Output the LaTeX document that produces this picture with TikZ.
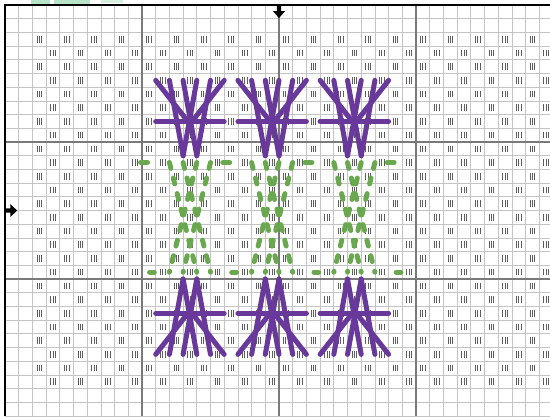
\documentclass[tikz,border=0pt]{standalone}
\definecolor{stpurple}{HTML}{68399A}
\definecolor{stgreen}{HTML}{6AA84F}
\definecolor{minorgrid}{HTML}{C4C4C4}
\definecolor{majorgrid}{HTML}{7A7A7A}
\definecolor{markgray}{HTML}{5E5E5E}
\definecolor{logogreen}{HTML}{B9E3C6}
\tikzset{
  minorline/.style={minorgrid,line width=0.8pt},
  majorline/.style={majorgrid,line width=1.1pt},
  borderline/.style={black,line width=1.6pt},
  markst/.style={markgray,line width=0.75pt},
  purplest/.style={stpurple,line width=5pt,line cap=round},
  greenst/.style={stgreen,line width=5pt,line cap=round,dash pattern=on 6pt off 10pt},
  greenbar/.style={stgreen,line width=5pt,line cap=round},
  arrowfill/.style={fill=black,draw=none}
}
\begin{document}
\begin{tikzpicture}[x=13.7pt,y=-13.7pt]
\useasboundingbox (-0.365,-0.365) rectangle (39.78,30.0);
\clip (-0.365,-0.365) rectangle (39.78,30.0);
\fill[white] (-0.365,-0.365) rectangle (39.78,30.0);
% faint logo remnants at top
\fill[logogreen] (1.9,-0.37) rectangle (3.3,-0.1);
\fill[logogreen] (3.6,-0.37) rectangle (6.2,-0.08);
\fill[logogreen!60] (7.0,-0.37) rectangle (8.6,-0.15);
% minor grid
\foreach \k in {1,...,39} \draw[minorline] (\k,0) -- (\k,30.0);
\foreach \j in {1,...,30} \draw[minorline] (0,\j) -- (39.78,\j);
% major grid
\foreach \k in {10,20,30} \draw[majorline] (\k,0) -- (\k,30.0);
\foreach \j in {10,20} \draw[majorline] (0,\j) -- (39.78,\j);
% border
\draw[borderline] (0,30.0) -- (0,0) -- (39.78,0);
% marks
\foreach \j in {2,...,27}{
  \pgfmathtruncatemacro\st{2+mod(\j,2)}
  \pgfmathtruncatemacro\stt{\st+2}
  \foreach \k in {\st,\stt,...,39}{
    \draw[markst,shift={(\k+0.5,\j+0.5)}] (-0.17,-0.24)--(-0.17,0.24) (0,-0.24)--(0,0.24) (0.17,-0.24)--(0.17,0.24);
  }
}
% green stitches
\foreach \g in {0,1,2}{
  \begin{scope}[xshift=\g*6*13.7pt]
    \draw[greenst] (12,11.5) -- (14,19.5);
    \draw[greenst] (13,11.5) -- (15,19.5);
    \draw[greenst] (14,11.5) -- (12,19.5);
    \draw[greenst] (15,11.5) -- (13,19.5);
  \end{scope}
}
\foreach \g in {0,1,2,3}{
  \begin{scope}[xshift=\g*6*13.7pt]
    \draw[greenbar] (9.9,11.5) -- (10.4,11.5);
    \draw[greenbar] (10.55,19.5) -- (10.9,19.5);
  \end{scope}
}
% purple stitches
\foreach \g in {0,1,2}{
  \begin{scope}[xshift=\g*6*13.7pt]
    % top sheaf
    \draw[purplest] (11,8.5) -- (16,8.5);
    \draw[purplest] (11,5.5) -- (13.35,8.5);
    \draw[purplest] (16,5.5) -- (13.65,8.5);
    \draw[purplest] (12,5.5) -- (13,11);
    \draw[purplest] (13,5.5) -- (14,11);
    \draw[purplest] (14,5.5) -- (13,11);
    \draw[purplest] (15,5.5) -- (14,11);
    % bottom sheaf
    \draw[purplest] (11,22.5) -- (16,22.5);
    \draw[purplest] (11,25.5) -- (13.35,22.5);
    \draw[purplest] (16,25.5) -- (13.65,22.5);
    \draw[purplest] (12,25.5) -- (13,20);
    \draw[purplest] (13,25.5) -- (14,20);
    \draw[purplest] (14,25.5) -- (13,20);
    \draw[purplest] (15,25.5) -- (14,20);
  \end{scope}
}
% centre arrows
\fill[arrowfill] (19.85,0) -- (20.15,0) -- (20.15,0.45) -- (20.44,0.45) -- (20,0.95) -- (19.56,0.45) -- (19.85,0.45) -- cycle;
\fill[arrowfill] (0,14.85) -- (0,15.15) -- (0.4,15.15) -- (0.4,15.47) -- (0.88,15) -- (0.4,14.53) -- (0.4,14.85) -- cycle;
\end{tikzpicture}
\end{document}
